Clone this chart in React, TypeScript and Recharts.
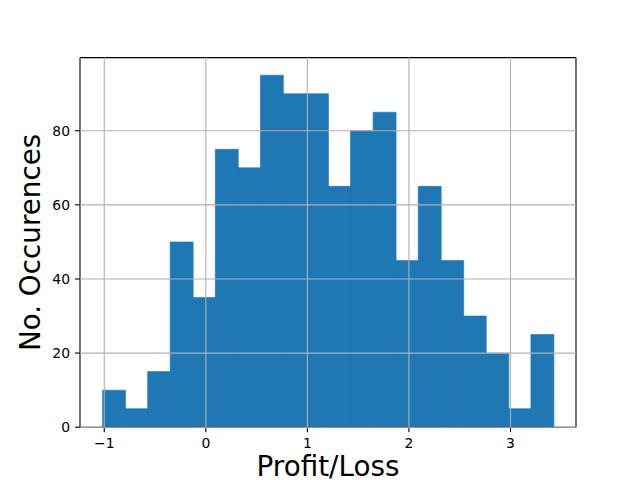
import React from 'react';
import { ComposedChart, Bar, XAxis, YAxis, CartesianGrid, ReferenceLine, Label } from 'recharts';

const binStarts = [-1.017, -0.795, -0.573, -0.351, -0.129, 0.093, 0.315, 0.537, 0.759, 0.981, 1.203, 1.425, 1.647, 1.869, 2.091, 2.313, 2.535, 2.757, 2.979, 3.201];
const binWidth = 0.222;
const counts = [10, 5, 15, 50, 35, 75, 70, 95, 90, 90, 65, 80, 85, 45, 65, 45, 30, 20, 5, 25];
const xTicks = [-1, 0, 1, 2, 3];
const yTicks = [0, 20, 40, 60, 80];
const xDomain: [number, number] = [-1.239, 3.645];
const yDomain: [number, number] = [0, 99.75];
const xLabel = 'Profit/Loss';
const yLabel = 'No. Occurences';

const data = binStarts.map((s, i) => ({ x: s + binWidth / 2, count: counts[i] }));

const fmt = (v: number) => String(v).replace('-', '\u2212');

export default function App() {
  return (
    <div style={{ position: 'absolute', left: 0, top: 0, width: 640, height: 480, background: '#fff' }}>
      <ComposedChart
        width={640}
        height={480}
        data={data}
        margin={{ top: 57.6, right: 64, bottom: 0, left: 0 }}
        barCategoryGap={0}
        barGap={0}
        style={{ fontFamily: '"DejaVu Sans", sans-serif' }}
      >
        <Bar dataKey="count" fill="#1f77b4" stroke="#1f77b4" strokeWidth={0.6} isAnimationActive={false} />
        <CartesianGrid stroke="#b0b0b0" strokeWidth={1.1} strokeDasharray="" horizontalValues={yTicks} verticalValues={xTicks} zIndex={600} />
        <XAxis
          dataKey="x"
          type="number"
          domain={xDomain}
          ticks={xTicks}
          allowDataOverflow
          height={52.8}
          tickFormatter={fmt}
          tick={{ fill: '#000', fontSize: 13.9 }}
          tickSize={5}
          tickMargin={6}
          stroke="#000"
          tickLine={{ stroke: '#000', strokeWidth: 1.1 }}
          axisLine={{ stroke: '#000', strokeWidth: 1.1 }}
        >
          <Label
            content={({ viewBox }: any) => (
              <text x={viewBox.x + viewBox.width / 2} y={viewBox.y + 48.5} textAnchor="middle" fontSize={27.8} fill="#000" fontFamily='"DejaVu Sans", sans-serif'>
                {xLabel}
              </text>
            )}
          />
        </XAxis>
        <YAxis
          type="number"
          domain={yDomain}
          ticks={yTicks}
          allowDataOverflow
          width={80}
          tickFormatter={fmt}
          tick={{ fill: '#000', fontSize: 13.9 }}
          tickSize={5}
          tickMargin={5}
          stroke="#000"
          tickLine={{ stroke: '#000', strokeWidth: 1.1 }}
          axisLine={{ stroke: '#000', strokeWidth: 1.1 }}
        >
          <Label
            content={({ viewBox }: any) => {
              const cx = viewBox.x + 40;
              const cy = viewBox.y + viewBox.height / 2;
              return (
                <text x={cx} y={cy} transform={`rotate(-90, ${cx}, ${cy})`} textAnchor="middle" fontSize={27.8} fill="#000" fontFamily='"DejaVu Sans", sans-serif'>
                  {yLabel}
                </text>
              );
            }}
          />
        </YAxis>
        <ReferenceLine x={xDomain[1]} stroke="#000" strokeWidth={1.1} />
        <ReferenceLine y={yDomain[1]} stroke="#000" strokeWidth={1.1} />
      </ComposedChart>
    </div>
  );
}
